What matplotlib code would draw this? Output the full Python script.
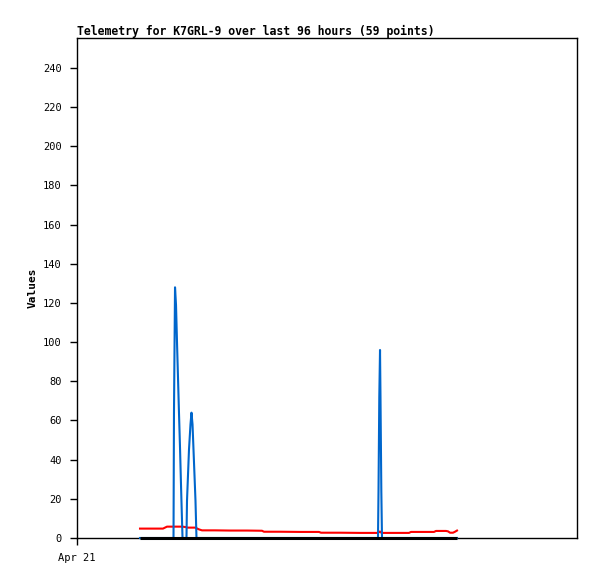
import matplotlib
matplotlib.use("Agg")
import matplotlib.pyplot as plt

# hours since start of the 96-hour window
hours = [12.10, 14.40, 16.51, 17.28, 18.05, 18.53, 18.62, 18.82, 19.01, 19.20,
         19.39, 19.58, 19.78, 19.97, 20.16, 20.26, 21.02, 21.12, 21.31, 21.50,
         21.79, 21.98, 22.18, 22.37, 22.56, 22.75, 22.94, 23.42, 24.00, 26.50,
         29.38, 32.64, 35.52, 35.90, 38.98, 42.82, 46.46, 46.85, 50.50, 54.34,
         57.79, 57.89, 58.04, 58.18, 58.27, 58.43, 58.56, 61.06, 63.74, 64.13,
         66.82, 68.54, 68.93, 70.85, 71.23, 71.62, 72.19, 72.58, 72.96]

blue = [0, 0, 0, 0, 0, 0, 64, 128, 119, 100,
        82, 64, 46, 27, 9, 0, 0, 19, 32, 45,
        58, 64, 58, 45, 32, 19, 0, 0, 0, 0,
        0, 0, 0, 0, 0, 0, 0, 0, 0, 0,
        0, 24, 72, 96, 72, 24, 0, 0, 0, 0,
        0, 0, 0, 0, 0, 0, 0, 0, 0]

red = [4.8, 4.8, 4.8, 5.8, 5.8, 5.8, 5.8, 5.8, 5.8, 5.8,
       5.8, 5.8, 5.8, 5.8, 5.8, 5.8, 5.5, 5.3, 5.3, 5.3,
       5.3, 5.3, 5.3, 5.3, 5.3, 5.3, 5.0, 4.4, 3.9, 3.9,
       3.8, 3.8, 3.7, 3.2, 3.2, 3.1, 3.1, 2.7, 2.7, 2.6,
       2.6, 2.8, 3.2, 3.3, 3.0, 2.7, 2.6, 2.6, 2.6, 3.1,
       3.1, 3.1, 3.6, 3.6, 3.4, 2.7, 2.7, 3.2, 3.8]

black = [0] * 59

yticks = list(range(0, 241, 20))
xtick_pos = [0]
xtick_labels = ["Apr 21"]
title = "Telemetry for K7GRL-9 over last 96 hours (59 points)"

fig = plt.figure(figsize=(5.97, 5.79), dpi=100)
ax = fig.add_axes([77 / 597, 1 - 538 / 579, 500 / 597, 500 / 579])

ax.plot(hours, red, color="#ff0000", lw=1.5, zorder=2, clip_on=False)
ax.plot(hours, blue, color="#0066cc", lw=1.5, zorder=3, clip_on=False)
ax.plot(hours, black, color="#000000", lw=2.2, zorder=4, clip_on=False,
        solid_capstyle="butt")

ax.set_xlim(0, 96)
ax.set_ylim(0, 255.3)
ax.set_yticks(yticks)
ax.set_yticklabels([str(v) for v in yticks], fontsize=7.5, family="DejaVu Sans Mono")
ax.set_xticks(xtick_pos)
ax.set_xticklabels(xtick_labels, fontsize=7.5, family="DejaVu Sans Mono")
ax.tick_params(direction="out", length=5, width=1, pad=6)
for s in ax.spines.values():
    s.set_linewidth(1)
    s.set_color("black")

ax.set_ylabel("Values", fontsize=8, fontweight="bold", family="DejaVu Sans Mono", labelpad=4)
ax.set_title(title, loc="left", fontsize=8.3, fontweight="bold", family="DejaVu Sans Mono", pad=2.5)

fig.savefig("out.png", dpi=100)
